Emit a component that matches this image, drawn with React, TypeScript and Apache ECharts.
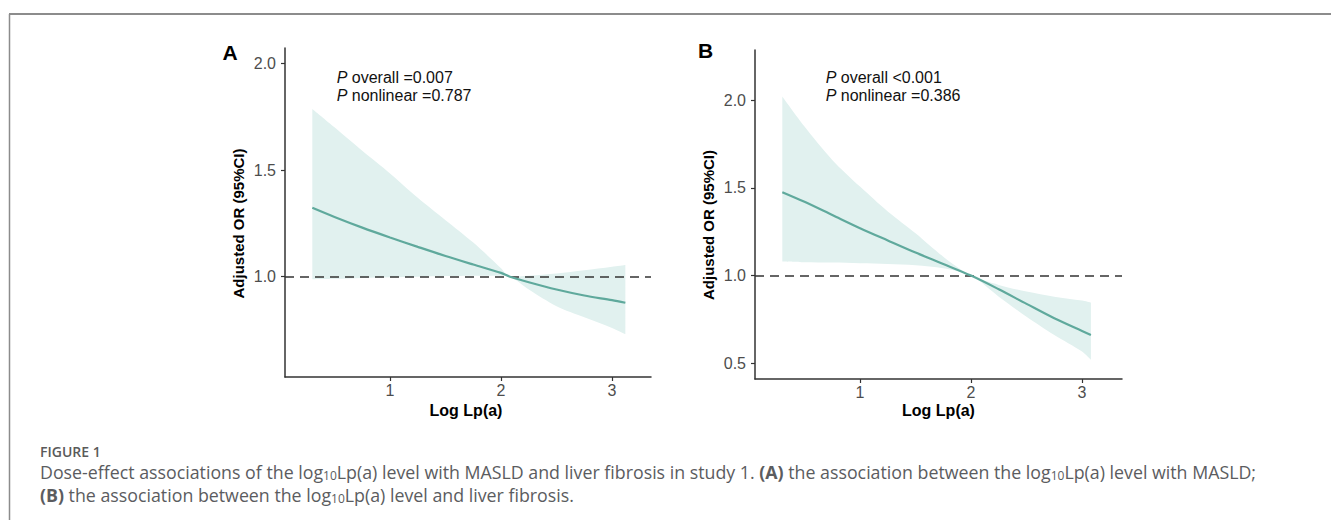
import React, { useEffect, useRef } from "react";
import * as echarts from "echarts";

// Panel A: MASLD
const xA = [0.3, 0.5, 0.75, 1.0, 1.25, 1.5, 1.75, 2.0, 2.08, 2.25, 2.5, 2.75, 3.0, 3.12];
const fitA = [1.323, 1.28, 1.23, 1.184, 1.14, 1.097, 1.057, 1.018, 1.0, 0.974, 0.94, 0.912, 0.89, 0.878];
const upperA = [1.786, 1.7, 1.59, 1.484, 1.37, 1.265, 1.16, 1.04, 1.0, 1.005, 1.015, 1.03, 1.047, 1.055];
const lowerA = [0.988, 0.99, 0.994, 0.997, 1.0, 1.003, 1.005, 1.004, 1.0, 0.94, 0.862, 0.81, 0.76, 0.731];

// Panel B: liver fibrosis
const xB = [0.3, 0.5, 0.75, 1.0, 1.25, 1.5, 1.75, 2.0, 2.25, 2.5, 2.75, 3.0, 3.08];
const fitB = [1.475, 1.42, 1.345, 1.27, 1.2, 1.131, 1.066, 1.0, 0.922, 0.839, 0.757, 0.685, 0.662];
const upperB = [2.02, 1.849, 1.659, 1.507, 1.365, 1.241, 1.108, 1.0, 0.947, 0.909, 0.88, 0.858, 0.846];
const lowerB = [1.08, 1.076, 1.074, 1.07, 1.066, 1.059, 1.042, 1.0, 0.88, 0.766, 0.662, 0.567, 0.52];

const xTicks = [1, 2, 3];
const yTicksA = [1.0, 1.5, 2.0];
const yTicksB = [0.5, 1.0, 1.5, 2.0];
const refValue = 1;

const pTextA = ["overall =0.007", "nonlinear =0.787"];
const pTextB = ["overall <0.001", "nonlinear =0.386"];

const CURVE = "#5fa99c";
const BAND = "#e1f1ef";
const BG = "#ffffff";
const AXIS = "#333333";
const FONT = "'Liberation Sans', Arial, sans-serif";
const CAP_FONT = "'Open Sans', 'Noto Sans', sans-serif";
const CAP_COLOR = "#5b5c60";

function pairs(xs: number[], ys: number[]) {
  return xs.map((x, i) => [x, ys[i]]);
}

// confidence band as a stacked area (value column first so that it is the stacked one)
function bandSeries(xs: number[], lo: number[], hi: number[], idx: number, name: string) {
  return [
    {
      type: "line",
      xAxisIndex: idx,
      yAxisIndex: idx,
      stack: name,
      smooth: 0.3,
      symbol: "none",
      lineStyle: { opacity: 0 },
      encode: { x: 1, y: 0 },
      data: xs.map((x, i) => [lo[i], x]),
      silent: true,
      z: 1,
    },
    {
      type: "line",
      xAxisIndex: idx,
      yAxisIndex: idx,
      stack: name,
      smooth: 0.3,
      symbol: "none",
      lineStyle: { opacity: 0 },
      areaStyle: { color: BAND, opacity: 1 },
      encode: { x: 1, y: 0 },
      data: xs.map((x, i) => [hi[i] - lo[i], x]),
      silent: true,
      z: 1,
    },
  ];
}

function fitSeries(xs: number[], ys: number[], idx: number) {
  return {
    type: "line",
    xAxisIndex: idx,
    yAxisIndex: idx,
    smooth: 0.3,
    symbol: "none",
    lineStyle: { color: CURVE, width: 2.2 },
    data: pairs(xs, ys),
    z: 5,
    markLine: {
      silent: true,
      symbol: "none",
      label: { show: false },
      lineStyle: { color: AXIS, width: 1.6, type: [9, 6] },
      data: [{ yAxis: refValue }],
    },
  };
}

function xAxisCfg(idx: number, min: number, max: number) {
  return {
    type: "value",
    gridIndex: idx,
    min,
    max,
    z: 10,
    splitLine: { show: false },
    axisLine: { show: true, lineStyle: { color: AXIS, width: 1.5 } },
    axisTick: { show: true, length: 4, lineStyle: { color: AXIS, width: 1.2 }, customValues: xTicks },
    axisLabel: {
      color: "#4d4d4d",
      fontSize: 16,
      fontFamily: FONT,
      margin: 5,
      customValues: xTicks,
      formatter: (v: number) => String(v),
    },
  };
}

function yAxisCfg(idx: number, min: number, max: number, ticks: number[]) {
  return {
    type: "value",
    gridIndex: idx,
    min,
    max,
    z: 10,
    splitLine: { show: false },
    axisLine: { show: true, lineStyle: { color: AXIS, width: 1.5 } },
    axisTick: { show: true, length: 4, lineStyle: { color: AXIS, width: 1.2 }, customValues: ticks },
    axisLabel: {
      color: "#4d4d4d",
      fontSize: 16,
      fontFamily: FONT,
      margin: 9,
      customValues: ticks,
      formatter: (v: number) => v.toFixed(1),
    },
  };
}

function pText(x: number, y: number, body: string) {
  return {
    type: "text",
    x,
    y,
    z: 20,
    style: {
      text: "{i|P}{n| " + body + "}",
      fill: "#111",
      fontSize: 16,
      fontFamily: FONT,
      verticalAlign: "middle",
      rich: {
        i: { fontStyle: "italic", fontSize: 16, fontFamily: FONT, fill: "#111" },
        n: { fontSize: 16, fontFamily: FONT, fill: "#111" },
      },
    },
  };
}

function capRich() {
  return {
    sub: { fontSize: 12, fontFamily: CAP_FONT, fill: CAP_COLOR, verticalAlign: "bottom", lineHeight: 12 },
    b: { fontSize: 17.8, fontFamily: CAP_FONT, fill: CAP_COLOR, fontWeight: "bold", lineHeight: 19 },
    n: { fontSize: 17.8, fontFamily: CAP_FONT, fill: CAP_COLOR, lineHeight: 19 },
  };
}

export default function App() {
  const ref = useRef<HTMLDivElement>(null);
  useEffect(() => {
    if (!ref.current) return;
    const chart = echarts.init(ref.current, null, { renderer: "svg" });
    const option: any = {
      animation: false,
      backgroundColor: BG,
      grid: [
        { left: 285, top: 48, width: 366, height: 329 },
        { left: 755, top: 50, width: 367, height: 329 },
      ],
      xAxis: [xAxisCfg(0, 0.054, 3.351), xAxisCfg(1, 0.054, 3.36)],
      yAxis: [yAxisCfg(0, 0.53, 2.072, yTicksA), yAxisCfg(1, 0.411, 2.285, yTicksB)],
      series: [
        ...bandSeries(xA, lowerA, upperA, 0, "ciA"),
        fitSeries(xA, fitA, 0),
        ...bandSeries(xB, lowerB, upperB, 1, "ciB"),
        fitSeries(xB, fitB, 1),
      ],
      graphic: [
        // frame
        { type: "line", shape: { x1: 9, y1: 14, x2: 1331, y2: 14 }, style: { stroke: "#8c8c8c", lineWidth: 2 } },
        { type: "line", shape: { x1: 9.5, y1: 14, x2: 9.5, y2: 520 }, style: { stroke: "#8c8c8c", lineWidth: 1.5 } },
        // panel labels
        { type: "text", x: 230, y: 52.5, style: { text: "A", fontSize: 21, fontWeight: "bold", fontFamily: FONT, fill: "#000", align: "center", verticalAlign: "middle" } },
        { type: "text", x: 705.5, y: 50.5, style: { text: "B", fontSize: 21, fontWeight: "bold", fontFamily: FONT, fill: "#000", align: "center", verticalAlign: "middle" } },
        // p-values
        pText(336.7, 77.7, pTextA[0]),
        pText(336.7, 95.7, pTextA[1]),
        pText(825.7, 77.7, pTextB[0]),
        pText(825.7, 95.7, pTextB[1]),
        // y titles
        { type: "text", x: 238.5, y: 223.5, rotation: Math.PI / 2, style: { text: "Adjusted OR (95%CI)", fontSize: 15, fontWeight: "bold", fontFamily: FONT, fill: "#000", align: "center", verticalAlign: "middle" } },
        { type: "text", x: 708.5, y: 225, rotation: Math.PI / 2, style: { text: "Adjusted OR (95%CI)", fontSize: 15, fontWeight: "bold", fontFamily: FONT, fill: "#000", align: "center", verticalAlign: "middle" } },
        // x titles
        { type: "text", x: 466, y: 410, style: { text: "Log Lp(a)", fontSize: 16, fontWeight: "bold", fontFamily: FONT, fill: "#000", align: "center", verticalAlign: "middle" } },
        { type: "text", x: 938.5, y: 410, style: { text: "Log Lp(a)", fontSize: 16, fontWeight: "bold", fontFamily: FONT, fill: "#000", align: "center", verticalAlign: "middle" } },
        // caption
        { type: "text", x: 40, y: 451.5, style: { text: "FIGURE 1", fontSize: 14, fontWeight: 600, fontFamily: CAP_FONT, fill: "#5a5a5a", verticalAlign: "middle" } },
        {
          type: "text",
          x: 40,
          y: 472,
          style: {
            text: "{n|Dose-effect associations of the log}{sub|10}{n|Lp(a) level with MASLD and liver fibrosis in study 1. }{b|(A)}{n| the association between the log}{sub|10}{n|Lp(a) level with MASLD;}",
            verticalAlign: "middle",
            rich: capRich(),
          },
        },
        {
          type: "text",
          x: 40,
          y: 494.5,
          style: {
            text: "{b|(B)}{n| the association between the log}{sub|10}{n|Lp(a) level and liver fibrosis.}",
            verticalAlign: "middle",
            rich: capRich(),
          },
        },
      ],
    };
    chart.setOption(option);
    return () => chart.dispose();
  }, []);
  return <div ref={ref} style={{ position: "fixed", left: 0, top: 0, width: 1331, height: 520 }} />;
}
